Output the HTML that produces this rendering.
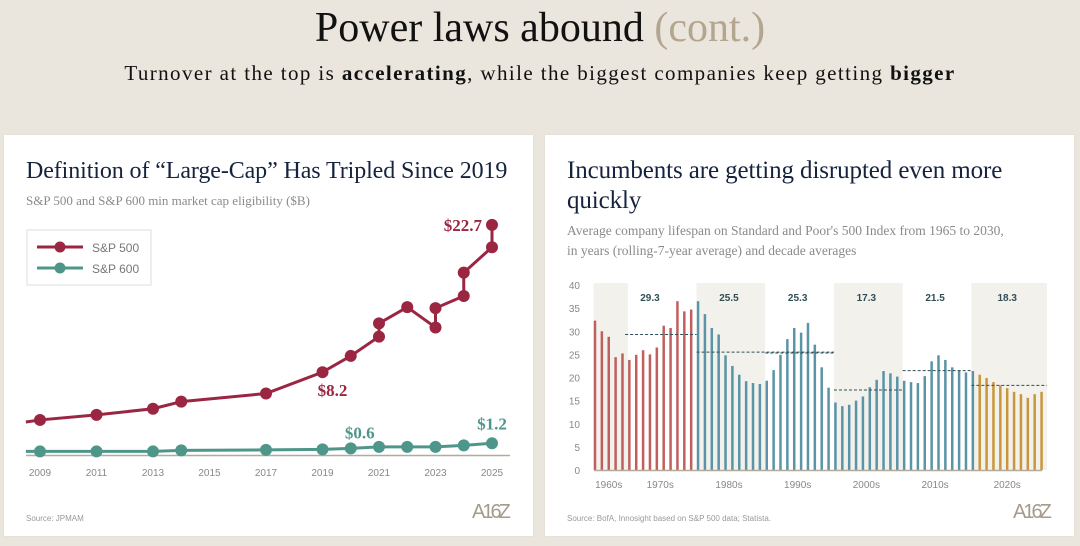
<!DOCTYPE html>
<html><head><meta charset="utf-8">
<style>
body{margin:0;width:1080px;height:546px;background:#ebe6dd;font-family:"Liberation Serif",serif;overflow:hidden;position:relative}
.t{position:absolute;left:0;width:1080px;text-align:center}
.panel{position:absolute;top:135px;width:529px;height:401px;background:#fff;box-shadow:0 0 2px #ddd6c8}
.h{position:absolute;left:22px;font-size:24px;color:#15233f;line-height:30px;letter-spacing:-0.1px}
.sub{position:absolute;left:22px;font-size:13px;color:#8a8a8a;line-height:20px}
.src{position:absolute;font-family:"Liberation Sans",sans-serif;font-size:8px;color:#999}
.logo{position:absolute;font-family:"Liberation Sans",sans-serif;font-size:20px;color:#a59b8a;letter-spacing:-3px}
svg text{font-family:"Liberation Sans",sans-serif}
</style></head><body>
<div class="t" style="top:4px;font-size:42px;color:#111">Power laws abound <span style="color:#b3a58e">(cont.)</span></div>
<div class="t" style="top:61px;font-size:21px;color:#111;letter-spacing:1.4px">Turnover at the top is <b>accelerating</b>, while the biggest companies keep getting <b>bigger</b></div>

<div class="panel" style="left:4px">
 <div class="h" style="top:21px">Definition of “Large-Cap” Has Tripled Since 2019</div>
 <div class="sub" style="top:56px">S&amp;P 500 and S&amp;P 600 min market cap eligibility ($B)</div>
 <div class="src" style="left:22px;top:379px">Source: JPMAM</div>
 <div class="logo" style="left:468px;top:366px">A16Z</div>
</div>
<div class="panel" style="left:545px">
 <div class="h" style="top:21px;font-size:25px">Incumbents are getting disrupted even more<br>quickly</div>
 <div class="sub" style="top:86px;font-size:13.5px">Average company lifespan on Standard and Poor's 500 Index from 1965 to 2030,<br>in years (rolling-7-year average) and decade averages</div>
 <div class="src" style="left:22px;top:379px">Source: BofA, Innosight based on S&amp;P 500 data; Statista.</div>
 <div class="logo" style="left:468px;top:366px">A16Z</div>
</div>

<svg id="L" width="1080" height="546" style="position:absolute;left:0;top:0">
 <g>
  <rect x="27" y="230" width="124" height="55" fill="#fff" stroke="#ddd"/>
  <line x1="37" y1="247" x2="83" y2="247" stroke="#9b2642" stroke-width="3"/><circle cx="60" cy="247" r="5.5" fill="#9b2642"/>
  <text x="92" y="252" font-size="12" fill="#777">S&amp;P 500</text>
  <line x1="37" y1="268" x2="83" y2="268" stroke="#4f968a" stroke-width="3"/><circle cx="60" cy="268" r="5.5" fill="#4f968a"/>
  <text x="92" y="273" font-size="12" fill="#777">S&amp;P 600</text>
 </g>
</svg>
<svg id="R" width="1080" height="546" style="position:absolute;left:0;top:0"></svg>

<script>
const sp500Years=[2008.5,2009,2011,2013,2014,2017,2019,2020,2021,2021,2022,2023,2023,2024,2024,2025,2025];
const sp500Values=[3.3,3.5,4.0,4.6,5.3,6.1,8.2,9.8,11.7,13.0,14.6,12.6,14.5,15.7,18.0,20.5,22.7];
const sp600Years=[2008.5,2009,2011,2013,2014,2017,2019,2020,2021,2022,2023,2024,2025];
const sp600Values=[0.4,0.4,0.4,0.4,0.5,0.55,0.6,0.7,0.85,0.85,0.85,1.0,1.2];
const xTicks=[2009,2011,2013,2015,2017,2019,2021,2023,2025];

const NS="http://www.w3.org/2000/svg";
function el(p,t,a){const e=document.createElementNS(NS,t);for(const k in a)e.setAttribute(k,a[k]);p.appendChild(e);return e;}
const L=document.getElementById('L');
const xL=y=>40+(y-2009)*28.25, yL=v=>455.5-v*10.16;
const base=el(L,'line',{x1:26,x2:510,y1:455.5,y2:455.5,stroke:'#b5aa9a','stroke-width':1.5});


xTicks.forEach(t=>{const e=el(L,'text',{x:xL(t),y:476,'font-size':10,fill:'#888','text-anchor':'middle'});e.textContent=t;

});
function series(ys,vs,col,name){
 const pl=el(L,'polyline',{points:ys.map((y,i)=>xL(y)+','+yL(vs[i])).join(' '),fill:'none',stroke:col,'stroke-width':3});
 
 
 ys.forEach((y,i)=>{if(i===0)return;const c=el(L,'circle',{cx:xL(y),cy:yL(vs[i]),r:6,fill:col});
 
 });
}
series(sp500Years,sp500Values,'#9b2642','sp500');
series(sp600Years,sp600Values,'#4f968a','sp600');
function lab(x,y,t,c,a){const e=el(L,'text',{x:x,y:y,'font-size':17,fill:c,'text-anchor':a,'font-weight':'bold'});e.style.fontFamily='"Liberation Serif",serif';e.textContent=t;

}
lab(xL(2019)+10,yL(8.2)+24,'$8.2','#9b2642','middle');
lab(xL(2025)-10,yL(22.7)+6,'$22.7','#9b2642','end');
lab(xL(2020)+9,yL(0.6)-11,'$0.6','#4f968a','middle');
lab(xL(2025)+0,yL(1.2)-14,'$1.2','#4f968a','middle');

// Right chart
const lifespanYears=[];for(let y=1965;y<=2030;y++)lifespanYears.push(y);
const lifespanValues=[32.3,30,28.8,24.4,25.2,23.8,24.9,25.9,25,26.5,31.2,30.7,36.5,34.3,34.7,
36.5,33.7,30.7,29.3,24.8,22.5,20.6,19.2,18.8,18.6,19.3,21.6,24.9,28.3,30.7,29.7,31.8,27.1,22.2,17.8,
14.6,13.8,14.1,15,15.9,17.9,19.5,21.4,20.9,20.2,19.3,19,18.8,20.3,23.5,24.8,23.8,22.2,21.6,21.1,21.4,
20.6,19.9,19,18.3,17.7,16.9,16.4,15.6,16.4,16.9];
const decades=['1960s','1970s','1980s','1990s','2000s','2010s','2020s'];
const decadeAvg=[null,29.3,25.5,25.3,17.3,21.5,18.3];
const yTicks=[0,5,10,15,20,25,30,35,40];
const R=document.getElementById('R');
const step=6.87, x0=595;
const xR=y=>x0+(y-1965)*step, yR=v=>470-v*4.625;
const decStart=[1965,1970,1980,1990,2000,2010,2020], decEnd=[1970,1980,1990,2000,2010,2020,2031];
decades.forEach((d,i)=>{
 if(i%2===0){const r=el(R,'rect',{x:xR(decStart[i])-1.5,y:yR(40)-2,width:xR(decEnd[i])-xR(decStart[i]),height:yR(0)-yR(40)+2,fill:'#f3f1ec'});
 
 }
 const t=el(R,'text',{x:(xR(decStart[i])+xR(Math.min(decEnd[i],2031)-1))/2,y:488,'font-size':10,fill:'#888','text-anchor':'middle'});t.textContent=d;
 
 
});
yTicks.forEach(v=>{const t=el(R,'text',{x:580,y:yR(v)+4,'font-size':10,fill:'#888','text-anchor':'end'});t.textContent=v;

});
lifespanYears.forEach((y,i)=>{
 const c=y<1980?'#c0605e':(y<=2020?'#5b94a7':'#c9963c');
 const b=el(R,'rect',{x:xR(y)-1.25,y:yR(lifespanValues[i]),width:2.5,height:yR(0)-yR(lifespanValues[i]),fill:c});
 
 
});
const ax=el(R,'line',{x1:594,x2:1042,y1:470.5,y2:470.5,stroke:'#b5aa9a','stroke-width':1.5});


decadeAvg.forEach((v,i)=>{if(v===null)return;
 const x1=xR(decStart[i]===1970?1969.6:decStart[i])-1.5, x2=i===2?xR(2000)-1.5:xR(Math.min(decEnd[i],2031))-1.5;
 const ln=el(R,'line',{x1:x1,x2:x2,y1:yR(v),y2:yR(v),stroke:'#2f4f55','stroke-width':1,'stroke-dasharray':'3,2'});
 
 
 const t=el(R,'text',{x:(xR(decStart[i]===1970?1967:decStart[i])+xR(Math.min(decEnd[i],2031)-1))/2,y:301,'font-size':10,'font-weight':'bold',fill:'#2f4f55','text-anchor':'middle'});t.textContent=v.toFixed(1);
 
 
});
</script>
</body></html>
